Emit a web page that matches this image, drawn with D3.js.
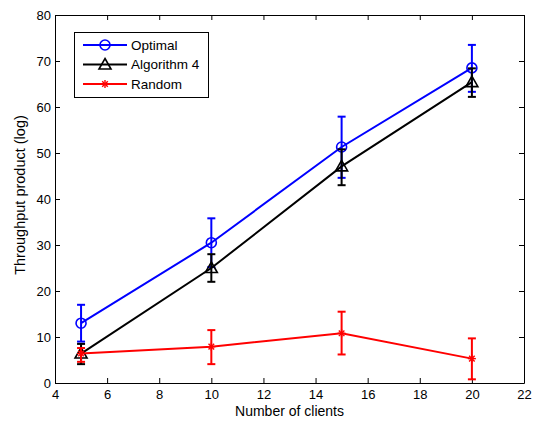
<!DOCTYPE html>
<html>
<head>
<meta charset="utf-8">
<script src="https://cdn.jsdelivr.net/npm/d3@7"></script>
<style>
  body { margin: 0; background: #fff; }
  svg text { font-family: "Liberation Sans", Arial, sans-serif; }
</style>
</head>
<body>
<svg id="chart" width="534" height="421"></svg>
<script>
// Number of clients
const clients = [5, 10, 15, 20];

// Throughput product (log): mean and error-bar bounds per series
const optimalMean = [13.0, 30.5, 51.3, 68.5];
const optimalLow  = [9.0, 25.2, 44.6, 63.3];
const optimalHigh = [17.0, 35.8, 57.9, 73.5];

const algoMean = [6.4, 25.0, 47.1, 65.4];
const algoLow  = [4.1, 22.0, 43.0, 62.2];
const algoHigh = [8.5, 28.0, 50.8, 68.4];

const randomMean = [6.4, 7.9, 10.8, 5.3];
const randomLow  = [4.6, 4.1, 6.2, 0.8];
const randomHigh = [7.6, 11.5, 15.5, 9.7];

const seriesNames = ["Optimal", "Algorithm 4", "Random"];
const seriesColors = ["#0000ff", "#000000", "#ff0000"];
const seriesMarkers = ["circle", "triangle", "star"];

const xTicks = [4, 6, 8, 10, 12, 14, 16, 18, 20, 22];
const yTicks = [0, 10, 20, 30, 40, 50, 60, 70, 80];

const series = [
  { mean: optimalMean, low: optimalLow, high: optimalHigh },
  { mean: algoMean, low: algoLow, high: algoHigh },
  { mean: randomMean, low: randomLow, high: randomHigh }
].map((s, i) => ({ ...s, name: seriesNames[i], color: seriesColors[i], marker: seriesMarkers[i] }));

const svg = d3.select("#chart");
const plotLeft = 55, plotRight = 524, plotTop = 15, plotBottom = 383;

const x = d3.scaleLinear().domain([4, 22]).range([plotLeft, plotRight]);
const y = d3.scaleLinear().domain([0, 80]).range([plotBottom, plotTop]);

const g = svg.append("g");

// Axes with inward ticks on all four sides (boxed frame)
const tickLen = 5;
g.append("g").attr("transform", `translate(0,${plotBottom})`)
  .call(d3.axisBottom(x).tickValues(xTicks).tickSizeInner(-tickLen).tickSizeOuter(0).tickPadding(7));
g.append("g").attr("transform", `translate(${plotLeft},0)`)
  .call(d3.axisLeft(y).tickValues(yTicks).tickSizeInner(-tickLen).tickSizeOuter(0).tickPadding(4));
g.append("g").attr("transform", `translate(0,${plotTop})`)
  .call(d3.axisTop(x).tickValues(xTicks).tickSizeInner(-tickLen).tickSizeOuter(0).tickFormat(""));
g.append("g").attr("transform", `translate(${plotRight},0)`)
  .call(d3.axisRight(y).tickValues(yTicks).tickSizeInner(-tickLen).tickSizeOuter(0).tickFormat(""));

g.selectAll(".domain").attr("stroke", "#000").attr("stroke-width", 1);
g.selectAll(".tick line").attr("stroke", "#000");
g.selectAll(".tick text").attr("font-size", 13).attr("fill", "#000")
  .style("font-family", "'Liberation Sans', Arial, sans-serif");

// Axis titles
svg.append("text").attr("x", (plotLeft + plotRight) / 2).attr("y", 416)
  .attr("text-anchor", "middle").attr("font-size", 14).text("Number of clients");
svg.append("text").attr("transform", `translate(25,195) rotate(-90)`)
  .attr("text-anchor", "middle").attr("font-size", 14.5).text("Throughput product (log)");

function drawMarker(sel, type, color, cx, cy) {
  if (type === "circle") {
    sel.append("circle").attr("cx", cx).attr("cy", cy).attr("r", 5)
      .attr("fill", "none").attr("stroke", color).attr("stroke-width", 1.6);
  } else if (type === "triangle") {
    const s = 6;
    sel.append("path")
      .attr("d", `M${cx},${cy - s} L${cx + s},${cy + s * 0.75} L${cx - s},${cy + s * 0.75} Z`)
      .attr("fill", "none").attr("stroke", color).attr("stroke-width", 1.6);
  } else {
    const s = 4;
    const p = sel.append("g").attr("stroke", color).attr("stroke-width", 1.4);
    p.append("line").attr("x1", cx - s).attr("x2", cx + s).attr("y1", cy).attr("y2", cy);
    p.append("line").attr("x1", cx).attr("x2", cx).attr("y1", cy - s).attr("y2", cy + s);
    p.append("line").attr("x1", cx - s * 0.7).attr("x2", cx + s * 0.7).attr("y1", cy - s * 0.7).attr("y2", cy + s * 0.7);
    p.append("line").attr("x1", cx - s * 0.7).attr("x2", cx + s * 0.7).attr("y1", cy + s * 0.7).attr("y2", cy - s * 0.7);
  }
}

const line = d3.line().x(d => x(d[0])).y(d => y(d[1]));
const cap = 4;

series.forEach(s => {
  const sg = svg.append("g");
  const pts = clients.map((c, i) => [c, s.mean[i]]);
  sg.append("path").datum(pts).attr("d", line)
    .attr("fill", "none").attr("stroke", s.color).attr("stroke-width", 2);
  clients.forEach((c, i) => {
    const cx = x(c);
    const eb = sg.append("g").attr("stroke", s.color).attr("stroke-width", 2);
    eb.append("line").attr("x1", cx).attr("x2", cx).attr("y1", y(s.low[i])).attr("y2", y(s.high[i]));
    eb.append("line").attr("x1", cx - cap).attr("x2", cx + cap).attr("y1", y(s.low[i])).attr("y2", y(s.low[i]));
    eb.append("line").attr("x1", cx - cap).attr("x2", cx + cap).attr("y1", y(s.high[i])).attr("y2", y(s.high[i]));
    drawMarker(sg, s.marker, s.color, cx, y(s.mean[i]));
  });
});

// Legend
const lg = svg.append("g");
lg.append("rect").attr("x", 74.5).attr("y", 32.5).attr("width", 134).attr("height", 65)
  .attr("fill", "#fff").attr("stroke", "#000").attr("stroke-width", 1);
series.forEach((s, i) => {
  const ly = 45 + i * 19.5;
  lg.append("line").attr("x1", 83).attr("x2", 127).attr("y1", ly).attr("y2", ly)
    .attr("stroke", s.color).attr("stroke-width", 2);
  drawMarker(lg, s.marker, s.color, 105, ly);
  lg.append("text").attr("x", 131).attr("y", ly + 4.5).attr("font-size", 13.5).text(s.name);
});
</script>
</body>
</html>
